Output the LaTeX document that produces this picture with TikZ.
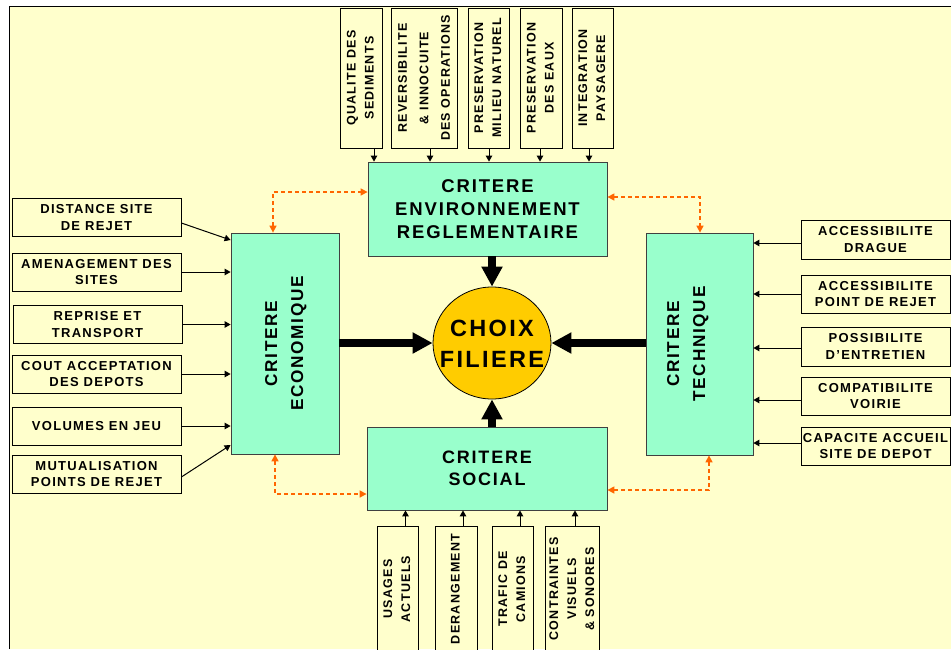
\documentclass[tikz,border=0pt]{standalone}
\usepackage{fontspec}
\usepackage{graphicx}
\setmainfont[LetterSpace=10]{Liberation Sans}
\usetikzlibrary{arrows.meta,shapes.geometric}
\definecolor{bg}{HTML}{FFFFCC}
\definecolor{grn}{HTML}{99FFCC}
\definecolor{gold}{HTML}{FFCC00}
\definecolor{orng}{HTML}{FF6600}
\newcommand{\vtext}[1]{\rotatebox{90}{\begin{tabular}{@{}c@{}}#1\end{tabular}}}
\begin{document}
\begin{tikzpicture}[x=1pt,y=-1pt,
 smallbox/.style={draw=black, line width=0.8pt, fill=bg, inner sep=0pt, align=center, font=\bfseries\fontsize{13}{16.7}\selectfont},
 vbox/.style={draw=black, line width=0.8pt, fill=bg, inner sep=0pt, font=\bfseries\fontsize{12.5}{18}\selectfont},
 crit/.style={draw=black!75, line width=0.8pt, fill=grn, inner sep=0pt, align=center},
 sarr/.style={-{Triangle[length=6pt,width=6.5pt]}, line width=1pt},
 barr/.style={line width=8pt, -{Triangle[length=20pt,width=20pt]}},
 odash/.style={orng, line width=1.5pt, dash pattern=on 4pt off 3pt, {Triangle[length=7pt,width=7pt]}-{Triangle[length=7pt,width=7pt]}}
]
\useasboundingbox (0,0) rectangle (951,649);
\fill[white] (0,0) rectangle (951,649);
\fill[bg] (9.5,6.5) rectangle (951,649);
\draw[line width=1.5pt] (9.5,649) -- (9.5,6.5) -- (951,6.5);

% central criteria
\node[crit, minimum width=239pt, minimum height=94pt, font=\bfseries\fontsize{18.5}{23.3}\selectfont] (env) at (487.5,209) {CRITERE\\ENVIRONNEMENT\\REGLEMENTAIRE};
\node[crit, minimum width=108pt, minimum height=221pt, font=\bfseries\fontsize{17.2}{26}\selectfont] (econ) at (285,343.5) {\vtext{CRITERE\\ECONOMIQUE}};
\node[crit, minimum width=107pt, minimum height=222pt] (tech) at (699.5,344) {};
\node[inner sep=0pt, font=\bfseries\fontsize{17.2}{26}\selectfont] (techt) at (687,344) {\vtext{CRITERE\\TECHNIQUE}};
\node[crit, minimum width=240pt, minimum height=83pt, font=\bfseries\fontsize{18}{21.7}\selectfont] (social) at (487,468.5) {CRITERE\\SOCIAL};
\node[ellipse, draw=black, line width=0.8pt, fill=gold, minimum width=118pt, minimum height=112pt, inner sep=0pt] (ch) at (492,343) {};
\node[inner sep=0pt, align=center, font=\bfseries\fontsize{23.5}{31}\selectfont] (cht) at (492,344) {CHOIX\\FILIERE};

% thick arrows
\draw[barr] (env.south -| ch.north) -- (ch.north);
\draw[barr] (social.north -| ch.south) -- (ch.south);
\draw[barr] (econ.east |- ch.west) -- (ch.west);
\draw[barr] (tech.west |- ch.east) -- (ch.east);

% orange dashed links
\draw[odash] (econ.north -| 273,0) |- (env.west |- 0,192);
\draw[odash] (env.east |- 0,197) -| (tech.north -| 700,0);
\draw[odash] (econ.south -| 275,0) |- (social.west |- 0,494);
\draw[odash] (social.east |- 0,490) -| (tech.south -| 709,0);

% top boxes
\node[vbox, minimum width=42pt, minimum height=140pt] (t1) at (361,78) {\vtext{QUALITE DES\\SEDIMENTS}};
\node[vbox, minimum width=66pt, minimum height=140pt, font=\bfseries\fontsize{12.5}{21.5}\selectfont] (t2) at (424,78) {\vtext{REVERSIBILITE\\\& INNOCUITE\\DES OPERATIONS}};
\node[vbox, minimum width=41pt, minimum height=140pt] (t3) at (488.5,78) {\vtext{PRESERVATION\\MILIEU NATUREL}};
\node[vbox, minimum width=42pt, minimum height=140pt] (t4) at (541,78) {\vtext{PRESERVATION\\DES EAUX}};
\node[vbox, minimum width=41pt, minimum height=140pt] (t5) at (592.5,78) {\vtext{INTEGRATION\\PAYSAGERE}};
\draw[sarr] (t1.south -| 374,0) -- (env.north -| 374,0);
\draw[sarr] (t2.south -| 430,0) -- (env.north -| 430,0);
\draw[sarr] (t3.south -| 489,0) -- (env.north -| 489,0);
\draw[sarr] (t4.south -| 540,0) -- (env.north -| 540,0);
\draw[sarr] (t5.south -| 589,0) -- (env.north -| 589,0);

% left boxes
\node[smallbox, minimum width=169pt, minimum height=38pt] (l1) at (96.5,217.5) {DISTANCE SITE\\DE REJET};
\node[smallbox, minimum width=169pt, minimum height=38pt] (l2) at (96.5,272) {AMENAGEMENT DES\\SITES};
\node[smallbox, minimum width=169pt, minimum height=38pt] (l3) at (97.5,324.5) {REPRISE ET\\TRANSPORT};
\node[smallbox, minimum width=169pt, minimum height=38pt] (l4) at (96.5,374) {COUT ACCEPTATION\\DES DEPOTS};
\node[smallbox, minimum width=169pt, minimum height=38pt] (l5) at (96.5,426) {VOLUMES EN JEU};
\node[smallbox, minimum width=169pt, minimum height=38pt] (l6) at (96.5,474) {MUTUALISATION\\POINTS DE REJET};
\draw[sarr] (l1.east |- 0,223) -- (econ.west |- 0,240);
\draw[sarr] (l2.east) -- (econ.west |- l2.east);
\draw[sarr] (l3.east) -- (econ.west |- l3.east);
\draw[sarr] (l4.east) -- (econ.west |- l4.east);
\draw[sarr] (l5.east) -- (econ.west |- l5.east);
\draw[sarr] (l6.east |- 0,477) -- (econ.west |- 0,445);

% right boxes
\node[smallbox, minimum width=149pt, minimum height=39pt] (r1) at (875.5,239.5) {ACCESSIBILITE\\DRAGUE};
\node[smallbox, minimum width=149pt, minimum height=38pt] (r2) at (875.5,294) {ACCESSIBILITE\\POINT DE REJET};
\node[smallbox, minimum width=149pt, minimum height=39pt] (r3) at (875.5,346.5) {POSSIBILITE\\D’ENTRETIEN};
\node[smallbox, minimum width=149pt, minimum height=38pt] (r4) at (875.5,396) {COMPATIBILITE\\VOIRIE};
\node[smallbox, minimum width=149pt, minimum height=38pt] (r5) at (875.5,446) {CAPACITE ACCUEIL\\SITE DE DEPOT};
\draw[sarr] (r1.west |- 0,243) -- (tech.east |- 0,243);
\draw[sarr] (r2.west) -- (tech.east |- r2.west);
\draw[sarr] (r3.west |- 0,348) -- (tech.east |- 0,348);
\draw[sarr] (r4.west |- 0,400) -- (tech.east |- 0,400);
\draw[sarr] (r5.west |- 0,443) -- (tech.east |- 0,443);

% bottom boxes
\node[vbox, minimum width=41pt, minimum height=126pt] (b1) at (397.5,589) {\vtext{USAGES\\ACTUELS}};
\node[vbox, minimum width=42pt, minimum height=126pt] (b2) at (456,589) {\vtext{DERANGEMENT}};
\node[vbox, minimum width=41pt, minimum height=126pt] (b3) at (512.5,589) {\vtext{TRAFIC DE\\CAMIONS}};
\node[vbox, minimum width=53pt, minimum height=126pt] (b4) at (572.5,589) {\vtext{CONTRAINTES\\VISUELS\\\& SONORES}};
\draw[sarr] (b1.north -| 405.5,0) -- (social.south -| 405.5,0);
\draw[sarr] (b2.north -| 463,0) -- (social.south -| 463,0);
\draw[sarr] (b3.north -| 520,0) -- (social.south -| 520,0);
\draw[sarr] (b4.north -| 575,0) -- (social.south -| 575,0);
\end{tikzpicture}
\end{document}
